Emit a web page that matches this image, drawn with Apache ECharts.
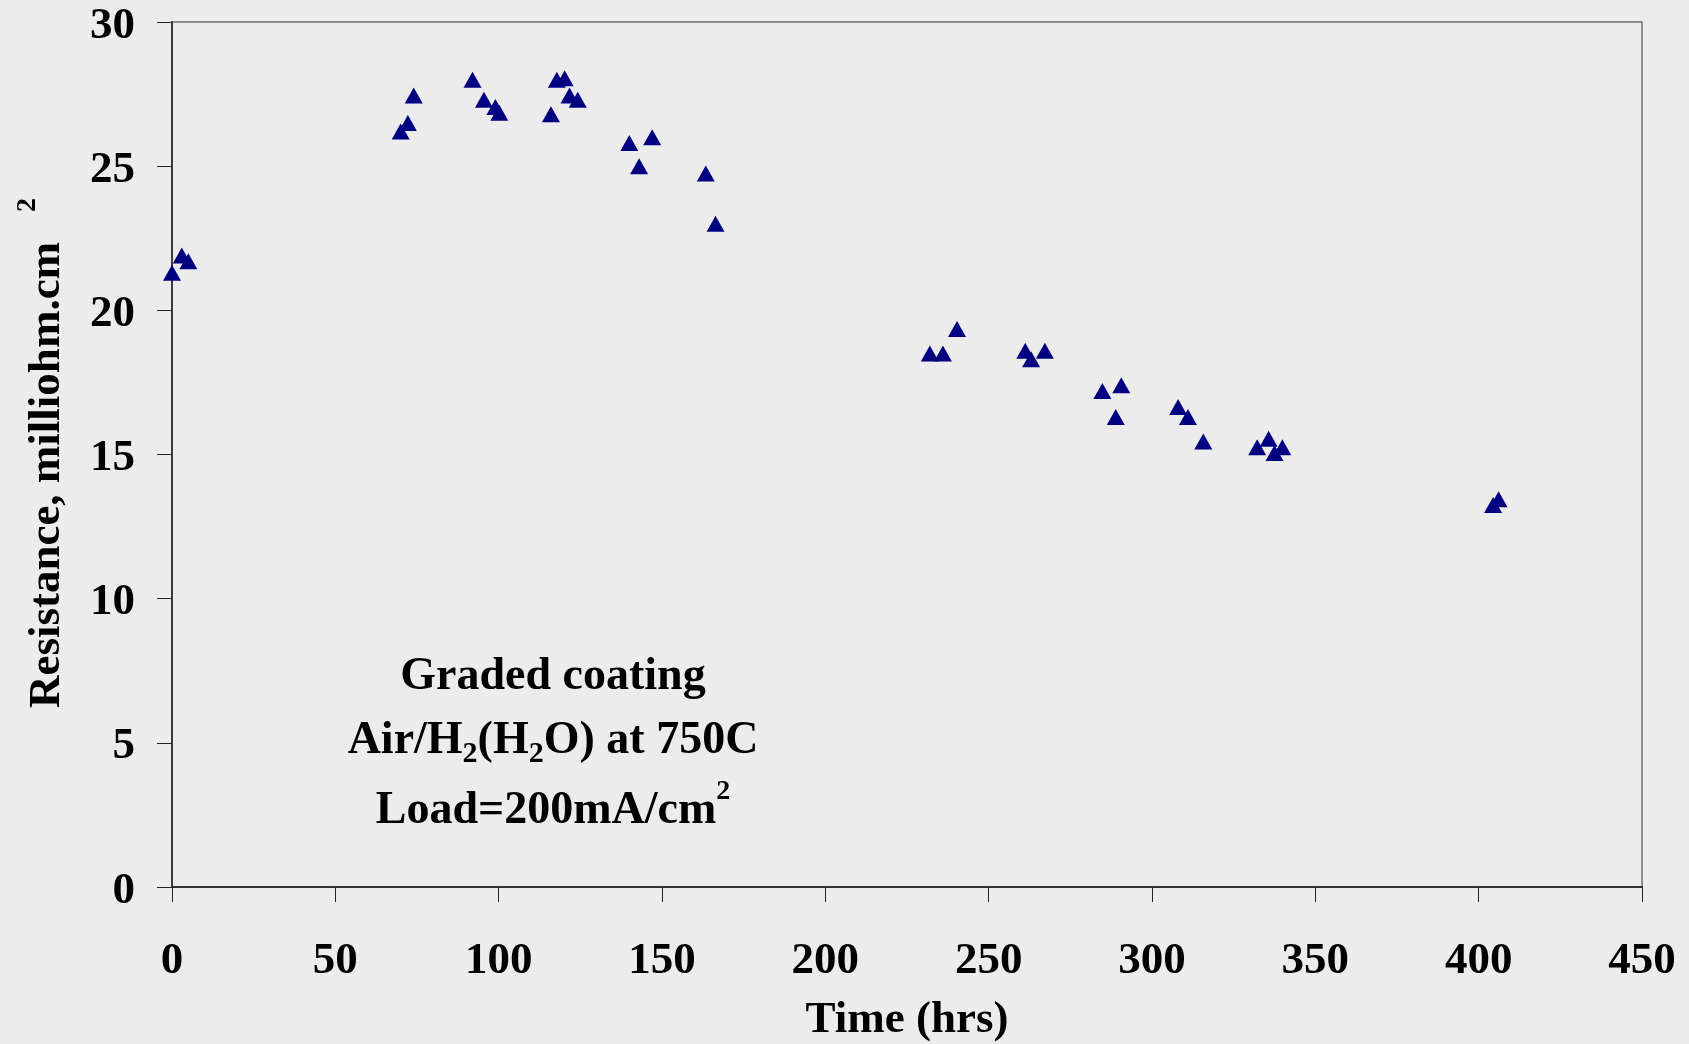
<!DOCTYPE html>
<html>
<head>
<meta charset="utf-8">
<script src="https://cdn.jsdelivr.net/npm/echarts@6/dist/echarts.min.js"></script>
<style>
  html, body { margin: 0; padding: 0; background: #ececec; }
  #chart { width: 1689px; height: 1044px; }
</style>
</head>
<body>
<div id="chart"></div>
<script>
// Time on test (hrs) and area-specific resistance (milliohm.cm2)
const timeHrs = [
  0, 3, 5,
  70, 72.2, 74,
  92, 95.5, 99, 100.2,
  116, 117.8, 120.2, 121.7, 124.2,
  140, 143, 147,
  163.4, 166.4,
  232, 236, 240.3,
  261.2, 263, 267.2,
  284.8, 288.9, 290.6,
  308, 311, 315.7,
  332.2, 335.7, 337.5, 339.9,
  404.4, 406.1
];
const resistance = [
  21.3, 21.9, 21.7,
  26.2, 26.5, 27.45,
  28.0, 27.3, 27.05, 26.85,
  26.8, 28.0, 28.05, 27.45, 27.3,
  25.8, 25.0, 26.0,
  24.75, 23.0,
  18.5, 18.5, 19.35,
  18.6, 18.3, 18.6,
  17.2, 16.3, 17.4,
  16.65, 16.3, 15.45,
  15.25, 15.55, 15.05, 15.25,
  13.25, 13.45
];
const xTicks = [0, 50, 100, 150, 200, 250, 300, 350, 400, 450];
const yTicks = [0, 5, 10, 15, 20, 25, 30];

const FONT = '"Liberation Serif", "Times New Roman", serif';
const points = timeHrs.map((t, i) => [t, resistance[i]]);

const chart = echarts.init(document.getElementById('chart'), null, { renderer: 'canvas' });

// rich styles for the in-plot note (subscripts / superscripts)
const noteRich = {
  n:   { fontFamily: FONT, fontWeight: 'bold', fontSize: 46, lineHeight: 56, verticalAlign: 'middle', fill: '#000' },
  n3:  { fontFamily: FONT, fontWeight: 'bold', fontSize: 46, lineHeight: 66, verticalAlign: 'middle', fill: '#000' },
  sub: { fontFamily: FONT, fontWeight: 'bold', fontSize: 30, lineHeight: 30, verticalAlign: 'bottom', fill: '#000' },
  sup: { fontFamily: FONT, fontWeight: 'bold', fontSize: 28, lineHeight: 28, verticalAlign: 'top', fill: '#000' }
};
function richText(text, x, y, rotation) {
  return {
    type: 'text', x: x, y: y, rotation: rotation || 0, z: 10,
    style: { text: text, rich: noteRich, align: 'center', verticalAlign: 'middle',
             fontFamily: FONT, fontWeight: 'bold', fill: '#000' }
  };
}

chart.setOption({
  backgroundColor: '#ececec',
  animation: false,
  grid: {
    left: 172, right: 47, top: 22, bottom: 157,
    outerBoundsMode: 'none',
    containLabel: false,
    show: true, backgroundColor: '#ececec', borderColor: '#8c8c8c', borderWidth: 2
  },
  xAxis: {
    type: 'value',
    min: xTicks[0], max: xTicks[xTicks.length - 1], interval: 50,
    name: 'Time (hrs)',
    nameLocation: 'middle',
    nameGap: 111,
    nameTextStyle: { fontFamily: FONT, fontWeight: 'bold', fontSize: 45, color: '#000' },
    axisLine: { show: true, onZero: false, lineStyle: { color: '#333', width: 2 } },
    axisTick: { show: true, inside: false, length: 15, lineStyle: { color: '#222', width: 1 } },
    axisLabel: { margin: 52, fontFamily: FONT, fontWeight: 'bold', fontSize: 45, color: '#000' },
    splitLine: { show: false }
  },
  yAxis: {
    type: 'value',
    min: yTicks[0], max: yTicks[yTicks.length - 1], interval: 5,
    axisLine: { show: true, onZero: false, lineStyle: { color: '#222', width: 1.5 } },
    axisTick: { show: true, inside: false, length: 15, lineStyle: { color: '#222', width: 1 } },
    axisLabel: {
      margin: 37, fontFamily: FONT, fontWeight: 'bold', fontSize: 45, color: '#000',
      formatter: (v) => '{t|' + v + '}',
      rich: { t: { fontFamily: FONT, fontWeight: 'bold', fontSize: 45, color: '#000', padding: [8, 0, 0, 0] } }
    },
    splitLine: { show: false }
  },
  series: [{
    type: 'scatter',
    data: points,
    symbol: 'triangle',
    symbolSize: [18, 16],
    itemStyle: { color: '#000080', opacity: 1 },
    z: 5
  }],
  graphic: [
    // vertical axis title, reading bottom to top
    {
      type: 'text', x: 47, y: 475, rotation: Math.PI / 2, z: 10,
      style: { text: 'Resistance, milliohm.cm', align: 'center', verticalAlign: 'middle',
               fontFamily: FONT, fontWeight: 'bold', fontSize: 45, fill: '#000' }
    },
    {
      type: 'text', x: 28, y: 205, rotation: Math.PI / 2, z: 10,
      style: { text: '2', align: 'center', verticalAlign: 'middle',
               fontFamily: FONT, fontWeight: 'bold', fontSize: 28, fill: '#000' }
    },
    // note inside the plot
    richText('{n|Graded coating}', 553, 677),
    richText('{n|Air/H}{sub|2}{n|(H}{sub|2}{n|O) at 750C}', 553, 741),
    richText('{n3|Load=200mA/cm}{sup|2}', 553, 811)
  ]
});
</script>
</body>
</html>
